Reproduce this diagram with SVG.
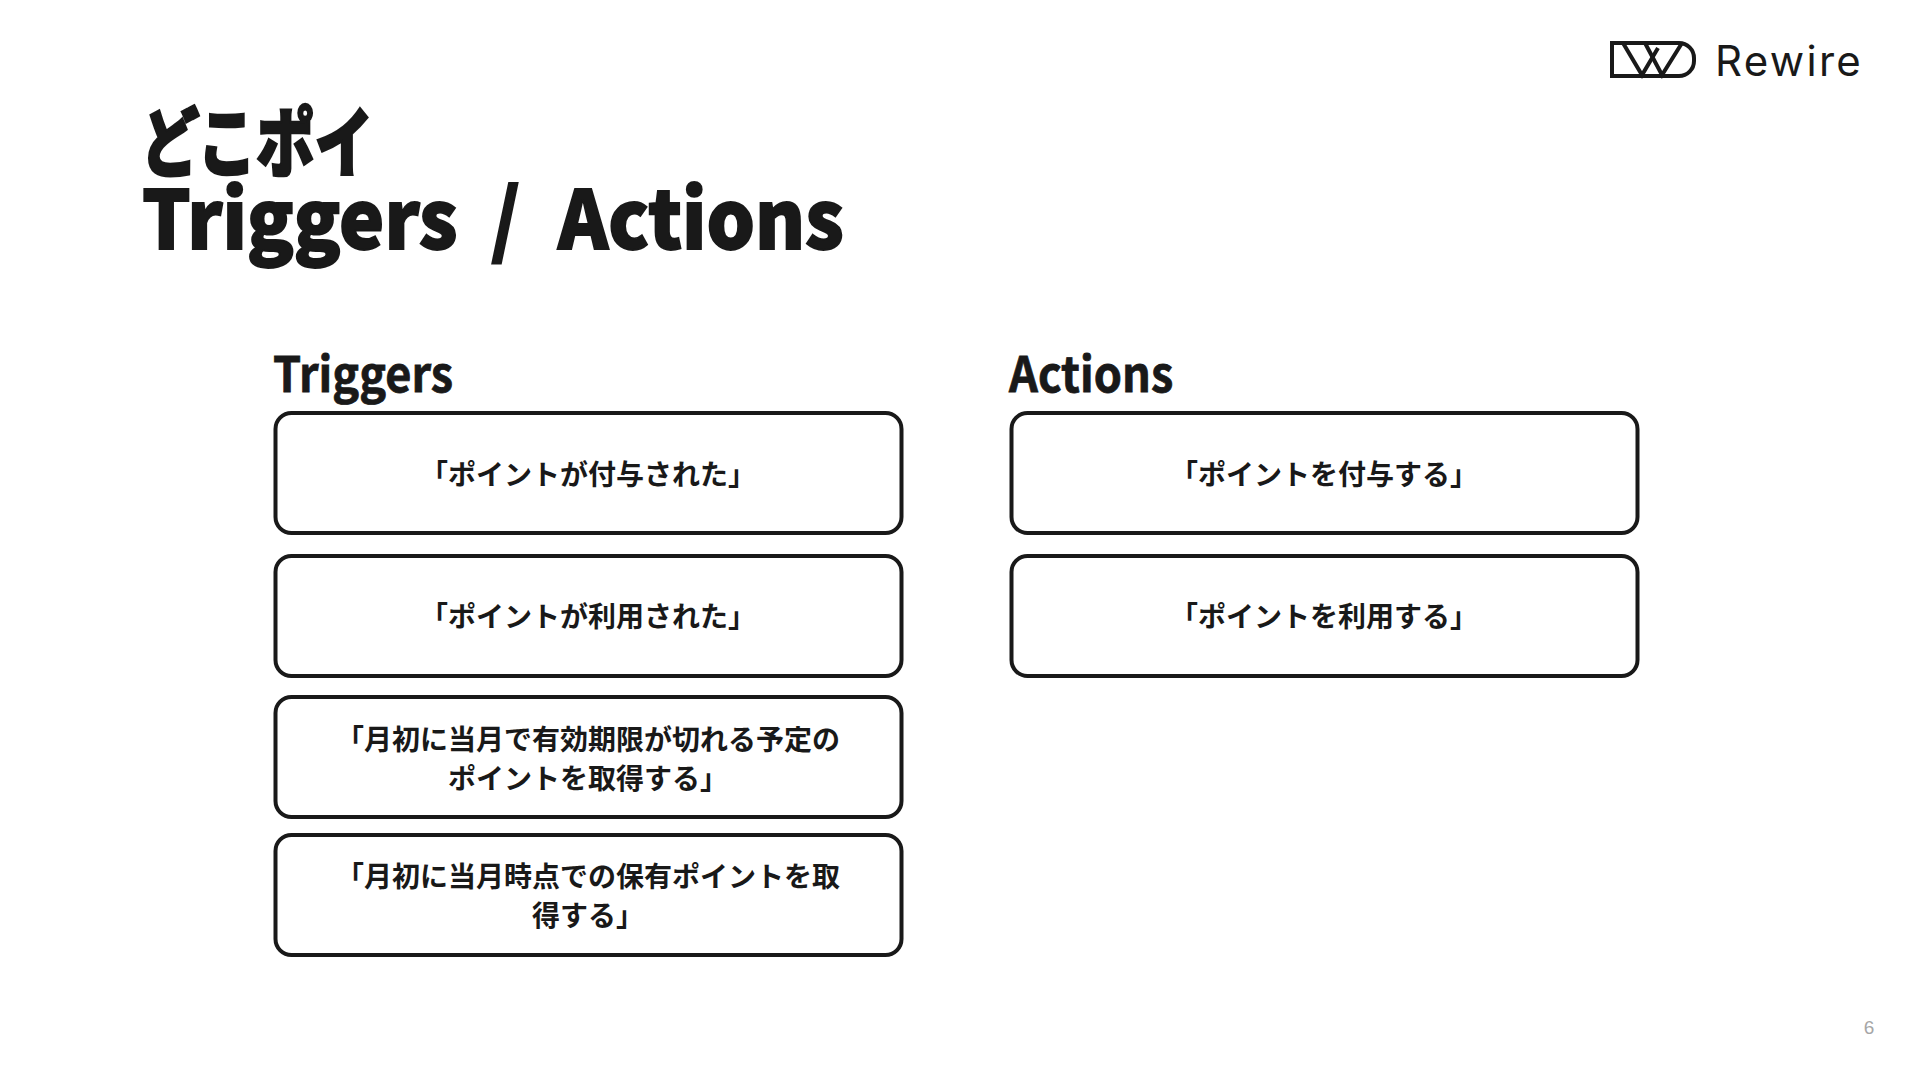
<svg xmlns="http://www.w3.org/2000/svg" width="1920" height="1080" viewBox="0 0 1920 1080">
<style>
text{font-family:"Noto Sans CJK JP","Noto Sans",sans-serif;fill:#191919;font-weight:700}
.t{font-size:81px;font-weight:900;stroke:#191919;stroke-width:1.8px}
.k{font-size:76px;font-weight:900;stroke:#191919;stroke-width:2.4px}
.h{font-size:49px;font-weight:700;stroke:#191919;stroke-width:.8px}
.b{font-size:28px;text-anchor:middle}
rect.n{fill:#fff;stroke:#191919;stroke-width:4}
</style>
<rect width="1920" height="1080" fill="#fff"/>
<g id="title">
<text class="k" transform="translate(141 171) scale(.77 1)">どこポイ</text>
<text class="t" transform="translate(142 249) scale(.94 1)">Triggers</text>
<text class="t" transform="translate(491 249) scale(.94 1)">/</text>
<text class="t" transform="translate(558 249) scale(.94 1)">Actions</text>
</g>
<g id="logo" fill="none" stroke="#191919" stroke-width="4"><path d="M1612 43H1679A15 15 0 0 1 1694 58V61A15 15 0 0 1 1679 76H1612Z"/><path d="M1623 43L1642 75L1658 48"/><path d="M1645 43L1662 75L1682 43"/></g>
<text id="logotext" x="1715" y="76" style="font-family:Inter,sans-serif;font-weight:400;font-size:42px;letter-spacing:2.3px">Rewire</text>
<text class="h" transform="translate(273 392) scale(.92 1)">Triggers</text>
<text class="h" transform="translate(1009 392) scale(.92 1)">Actions</text>
<g id="t1"><rect class="n" x="275.5" y="413" width="626" height="120" rx="16"/><text class="b" x="588" y="485">「ポイントが付与された」</text></g>
<g id="t2"><rect class="n" x="275.5" y="556" width="626" height="120" rx="16"/><text class="b" x="588" y="627">「ポイントが利用された」</text></g>
<g id="t3"><rect class="n" x="275.5" y="697" width="626" height="120" rx="16"/><text class="b" x="588" y="749.500"><tspan x="588">「月初に当月で有効期限が切れる予定の</tspan><tspan x="588" dy="39">ポイントを取得する」</tspan></text></g>
<g id="t4"><rect class="n" x="275.5" y="835" width="626" height="120" rx="16"/><text class="b" x="588" y="887"><tspan x="588">「月初に当月時点での保有ポイントを取</tspan><tspan x="588" dy="39">得する」</tspan></text></g>
<g id="a1"><rect class="n" x="1011.500" y="413" width="626" height="120" rx="16"/><text class="b" x="1324" y="485">「ポイントを付与する」</text></g>
<g id="a2"><rect class="n" x="1011.500" y="556" width="626" height="120" rx="16"/><text class="b" x="1324" y="627">「ポイントを利用する」</text></g>
<text id="page" x="1869" y="1034" text-anchor="middle" style="font-family:'Liberation Sans',sans-serif;font-weight:400;font-size:19px;fill:#a6a6a6">6</text>
<g id="connectors"/>
</svg>
